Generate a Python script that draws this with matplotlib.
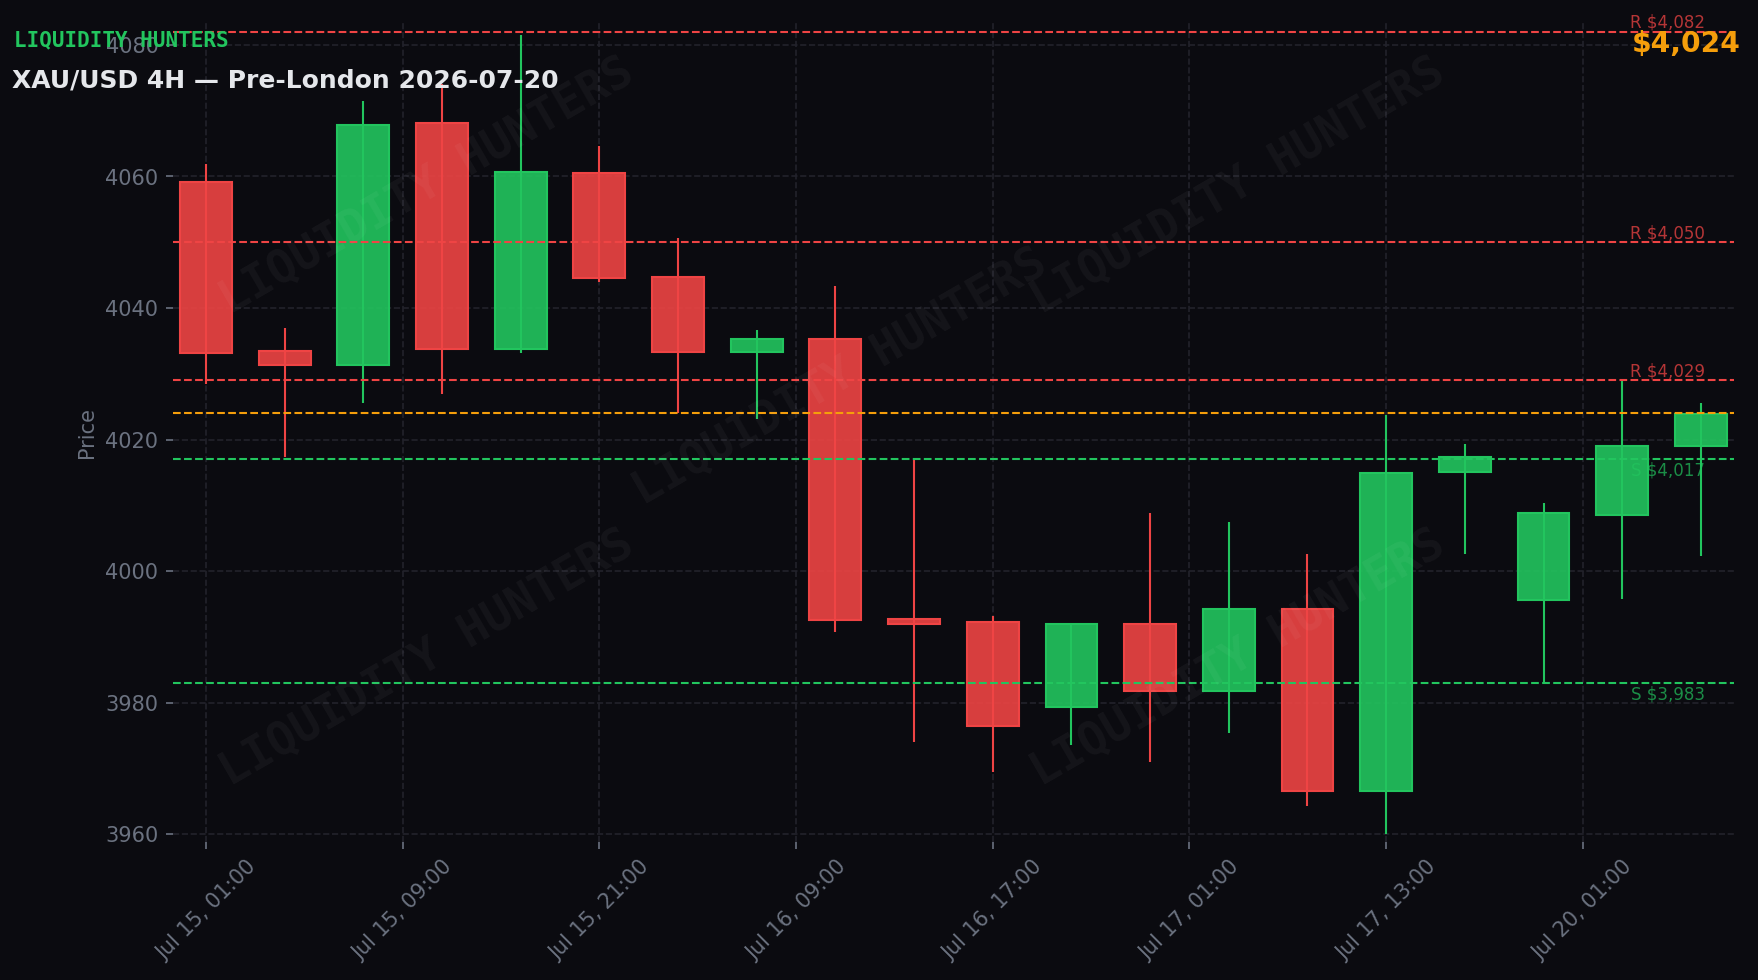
import matplotlib
matplotlib.use('Agg')
import matplotlib.pyplot as plt
from matplotlib.ticker import MultipleLocator, FuncFormatter

# 4H candles
times = ['Jul 15, 01:00', 'Jul 15, 05:00', 'Jul 15, 09:00', 'Jul 15, 13:00', 'Jul 15, 17:00', 'Jul 15, 21:00',
         'Jul 16, 01:00', 'Jul 16, 05:00', 'Jul 16, 09:00', 'Jul 16, 13:00', 'Jul 16, 17:00', 'Jul 16, 21:00',
         'Jul 17, 01:00', 'Jul 17, 05:00', 'Jul 17, 09:00', 'Jul 17, 13:00', 'Jul 17, 17:00', 'Jul 17, 21:00',
         'Jul 20, 01:00', 'Jul 20, 05:00']
opens = [4059.2, 4033.5, 4031.4, 4068.1, 4033.8, 4060.6, 4044.7, 4033.3, 4035.3, 3992.7,
         3992.2, 3979.3, 3992.0, 3981.8, 3994.3, 3966.5, 4015.1, 3995.6, 4008.6, 4019.0]
highs = [4061.9, 4037.0, 4071.5, 4074.0, 4081.5, 4064.7, 4050.7, 4036.7, 4043.4, 4016.9,
         3993.1, 3992.0, 4008.9, 4007.4, 4002.6, 4023.8, 4019.3, 4010.3, 4028.9, 4025.5]
lows = [4028.4, 4017.4, 4025.6, 4027.0, 4033.1, 4043.9, 4024.1, 4023.1, 3990.7, 3974.0,
        3969.4, 3973.5, 3970.9, 3975.3, 3964.3, 3960.0, 4002.6, 3982.8, 3995.8, 4002.3]
closes = [4033.1, 4031.4, 4067.9, 4033.8, 4060.7, 4044.5, 4033.3, 4035.3, 3992.6, 3992.0,
          3976.5, 3992.0, 3981.8, 3994.3, 3966.5, 4014.9, 4017.4, 4008.8, 4019.0, 4023.9]

resistances = [4082, 4050, 4029]
supports = [4017, 3983]
current_price = 4024

BG = '#0b0b10'
GREEN = '#22c55e'
RED = '#ef4444'
ORANGE = '#f59e0b'
GREY = '#6b7280'

fig = plt.figure(figsize=(11.72, 6.534), dpi=150, facecolor=BG)
ax = fig.add_axes([0.0984, 0.1408, 0.8879, 0.8367], facecolor=BG)

x = list(range(len(opens)))
up = [c >= o for o, c in zip(opens, closes)]
cols = [GREEN if u else RED for u in up]
heights = [abs(c - o) for o, c in zip(opens, closes)]
bottoms = [min(o, c) for o, c in zip(opens, closes)]

ax.vlines(x, lows, highs, colors=cols, linewidth=1.0, zorder=2)
ax.bar(x, heights, bottom=bottoms, width=0.66, color=cols, alpha=0.9, linewidth=0, zorder=3)
# solid edges on top
ax.bar(x, heights, bottom=bottoms, width=0.66, color='none', edgecolor=cols, linewidth=1.0, zorder=3)

for r in resistances:
    ax.axhline(r, color=RED, linestyle='--', linewidth=1.0, zorder=4)
    ax.text(19.05, r, f'R ${r:,}', color=RED, alpha=0.75, fontsize=8, ha='right', va='bottom', zorder=5)
for s in supports:
    ax.axhline(s, color=GREEN, linestyle='--', linewidth=1.0, zorder=4)
    ax.text(19.05, s - 0.4, f'S ${s:,}', color=GREEN, alpha=0.7, fontsize=8, ha='right', va='top', zorder=5)
ax.axhline(current_price, color=ORANGE, linestyle='--', linewidth=1.0, zorder=4)

# watermark
for wx, wy in [(0.163, 0.799), (0.682, 0.799), (0.427, 0.567), (0.163, 0.224), (0.682, 0.224)]:
    ax.text(wx, wy, 'LIQUIDITY HUNTERS', transform=ax.transAxes, family='DejaVu Sans Mono',
            fontweight='bold', fontsize=22, color='white', alpha=0.045, rotation=30,
            ha='center', va='center', zorder=6)

ax.set_xlim(-0.42, 19.42)
ax.set_ylim(3958.8, 4083.5)
ax.yaxis.set_major_locator(MultipleLocator(20))
ax.xaxis.set_major_locator(MultipleLocator(2.5))
ax.xaxis.set_major_formatter(FuncFormatter(lambda v, p: times[int(round(v))] if 0 <= round(v) < len(times) else ''))
plt.setp(ax.get_xticklabels(), rotation=45)

ax.grid(True, color='#22222b', linestyle='--', linewidth=0.8)
ax.set_axisbelow(True)
for sp in ax.spines.values():
    sp.set_visible(False)
ax.tick_params(colors=GREY, labelsize=10)
ax.set_ylabel('Price', color=GREY, fontsize=10)

fig.text(0.008, 0.953, 'LIQUIDITY HUNTERS', family='DejaVu Sans Mono', fontweight='bold',
         fontsize=10, color=GREEN, va='baseline')
fig.text(0.007, 0.911, 'XAU/USD 4H \u2014 Pre-London 2026-07-20', fontweight='bold',
         fontsize=12, color='#e5e7eb', va='baseline')
fig.text(0.990, 0.947, f'${current_price:,}', fontweight='bold', fontsize=13.5, color=ORANGE,
         ha='right', va='baseline')

fig.savefig('out.png', dpi=150, facecolor=BG)
